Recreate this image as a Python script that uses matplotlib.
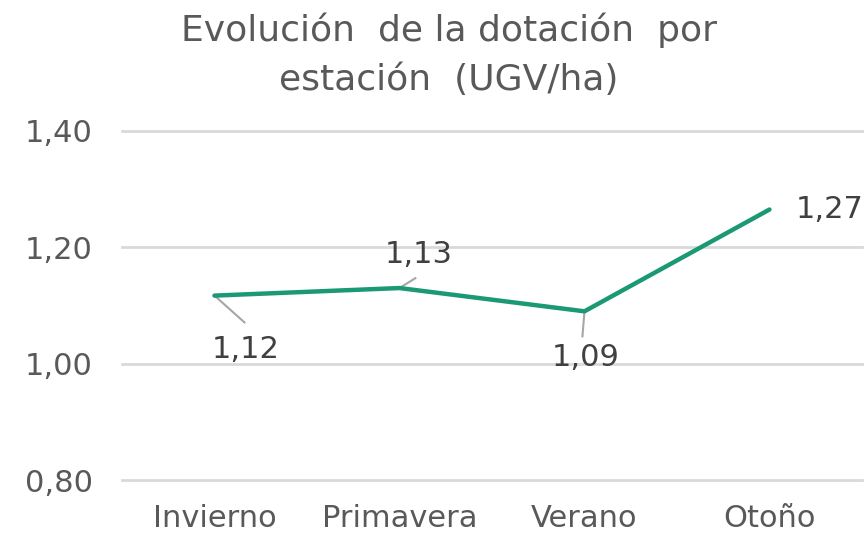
import matplotlib
matplotlib.use("Agg")
import matplotlib.pyplot as plt

# -----------------------------------
# DATA
# -----------------------------------

seasons = ["Invierno", "Primavera", "Verano", "Otoño"]
values = [1.117, 1.130, 1.090, 1.265]
labels = ["1,12", "1,13", "1,09", "1,27"]
y_ticks = [0.80, 1.00, 1.20, 1.40]
y_tick_labels = ["0,80", "1,00", "1,20", "1,40"]

# -----------------------------------
# LABEL LAYOUT (offsets from the point, data units)
# -----------------------------------

label_offsets = [(0.168, -0.093), (0.103, 0.057), (0.005, -0.079), (0.14, 0.0)]
leader_ends = [(0.162, -0.046), (0.086, 0.017), (-0.011, -0.043), None]

# -----------------------------------
# PLOT
# -----------------------------------

fig = plt.figure(figsize=(8.67, 5.34), dpi=100)
ax = fig.add_axes([0.1407, 0.1011, 0.8535, 0.6536])

x = list(range(len(seasons)))
ax.plot(x, values, color="#1b9975", linewidth=3.2,
        solid_capstyle="round", zorder=3)

ax.set_xlim(-0.5, 3.5)
ax.set_ylim(0.80, 1.40)
ax.set_yticks(y_ticks)
ax.set_yticklabels(y_tick_labels)
ax.set_xticks(x)
ax.set_xticklabels(seasons)

ax.grid(axis="y", color="#d9d9d9", linewidth=2)
for line in ax.get_ygridlines():
    line.set_clip_on(False)
ax.set_axisbelow(True)
for s in ax.spines.values():
    s.set_visible(False)
ax.tick_params(length=0, colors="#595959", labelsize=22)
ax.tick_params(axis="y", pad=21)
ax.tick_params(axis="x", pad=17)

# data labels with leader lines
for i, (v, lab) in enumerate(zip(values, labels)):
    dx, dy = label_offsets[i]
    ha = "left" if leader_ends[i] is None else "center"
    ax.text(i + dx, v + dy, lab, fontsize=22, color="#404040",
            ha=ha, va="center")
    if leader_ends[i] is not None:
        lx, ly = leader_ends[i]
        ax.plot([i, i + lx], [v, v + ly], color="#a6a6a6",
                linewidth=1.5, zorder=2)

fig.suptitle("Evolución  de la dotación  por\nestación  (UGV/ha)",
             x=0.518, y=0.976, fontsize=26, color="#595959",
             linespacing=1.55, va="top")

plt.savefig("out.png", dpi=100)
